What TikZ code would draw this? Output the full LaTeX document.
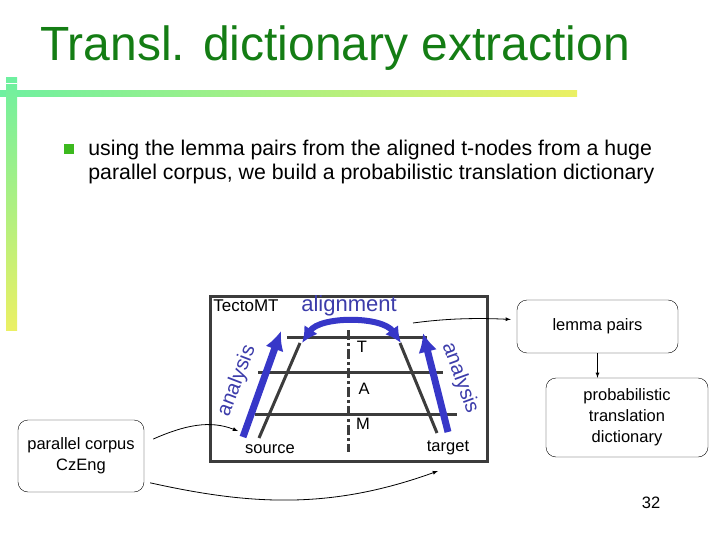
\documentclass[tikz,border=0pt]{standalone}
\usepackage{fontspec}
\setmainfont{Liberation Sans}
\usetikzlibrary{arrows,arrows.meta,positioning}

\definecolor{titlegreen}{RGB}{20,125,20}
\definecolor{barmint}{RGB}{110,240,160}
\definecolor{baryellow}{RGB}{235,240,100}
\definecolor{bulletgreen}{RGB}{60,185,30}
\definecolor{anablue}{RGB}{55,55,200}
\definecolor{textblue}{RGB}{60,60,170}
\definecolor{layergray}{RGB}{60,60,60}

\begin{document}
\begin{tikzpicture}[x=1pt, y=-1pt, thick, >= latex,
	roundbox/.style={draw, thin, rounded corners=10pt, align=center, font=\fontsize{16.5}{21}\selectfont},
	layer/.style={draw=layergray, line width=3pt},
	bluearrow/.style={draw=anablue, line width=7pt, -{Latex[length=19pt,width=19pt]}},
	small/.style={font=\fontsize{16.5}{18}\selectfont}]

\useasboundingbox (0,0) rectangle (720,540);

\node[anchor=base west, text=titlegreen, font=\fontsize{48}{50}\selectfont, inner sep=0pt] (title) at (40,61) {Transl. dictionary extraction};

\shade[left color=barmint, right color=baryellow] (0,91) rectangle (577,97);
\shade[top color=barmint, bottom color=baryellow] (6,78) rectangle (17,330);
\draw[white, line width=1pt] (6,84)--(17,84);

\fill[bulletgreen] (64,144) rectangle (74,154);
\node[anchor=base west, font=\fontsize{21.3}{24}\selectfont, inner sep=0pt] (line1) at (88,156) {using the lemma pairs from the aligned t-nodes from a huge};
\node[anchor=base west, font=\fontsize{21.3}{24}\selectfont, inner sep=0pt] (line2) at (88,180) {parallel corpus, we build a probabilistic translation dictionary};

% TectoMT box
\node[draw=layergray, line width=3pt, minimum width=277pt, minimum height=165pt] (tmt) at (348.5,378.5) {};
\node[anchor=north west, font=\fontsize{17}{18}\selectfont, inner sep=0pt] (tmtname) at (213,299) {TectoMT};
\node[text=textblue, font=\fontsize{22}{24}\selectfont] (align) at (349,306) {alignment};

\draw[layer] (287,337)--(427,337);
\draw[layer] (258,372)--(443,372);
\draw[layer] (255,414)--(457,414);
\draw[layer] (259,438)--(300,343);
\draw[layer] (437,433)--(400,343);
\draw[layer, dash pattern=on 10pt off 3pt on 3pt off 3pt] (348,330)--(348,452);

\node[small] (T) at (362,347) {T};
\node[small] (A) at (364,389) {A};
\node[small] (M) at (363,424) {M};
\node[small] (source) at (270,449) {source};
\node[small] (target) at (448,448) {target};

\draw[bluearrow] (243,437)--(281,331);
\draw[bluearrow] (448,432)--(423,333);
\draw[draw=anablue, line width=6pt, {Latex[length=16pt,width=16pt]}-{Latex[length=16pt,width=16pt]}] (302,343) .. controls (320,316) and (382,316) .. (401,343);

\node[text=textblue, font=\fontsize{20.5}{22}\selectfont, rotate=69] (ana1) at (237,381) {analysis};
\node[text=textblue, font=\fontsize{20.5}{22}\selectfont, rotate=-70] (ana2) at (460,378) {analysis};

% boxes on the sides
\node[roundbox, minimum width=161pt, minimum height=53pt] (lp) at (597.5,326.5) {lemma pairs};
\node[roundbox, minimum width=162pt, minimum height=79pt] (pd) at (627,417.5) {probabilistic\\translation\\dictionary};
\node[roundbox, minimum width=126pt, minimum height=72pt] (pc) at (81,456) {parallel corpus\\CzEng};

\coordinate (alnout) at (413,323);
\coordinate (srcin) at (238,431);
\coordinate (tgtin) at (438,471);

\draw[->] (alnout) .. controls (450,318) and (480,318) .. ([xshift=-6pt]lp.175);
\draw[->] (lp.south) -- (lp.south |- pd.north);
\draw[->] ([xshift=9pt]pc.15) .. controls (185,425) and (210,420) .. (srcin);
\draw[->] ([xshift=6pt]pc.-23) .. controls (250,505) and (330,510) .. (tgtin);

\node[small] (page) at (651,503) {32};

\end{tikzpicture}
\end{document}
